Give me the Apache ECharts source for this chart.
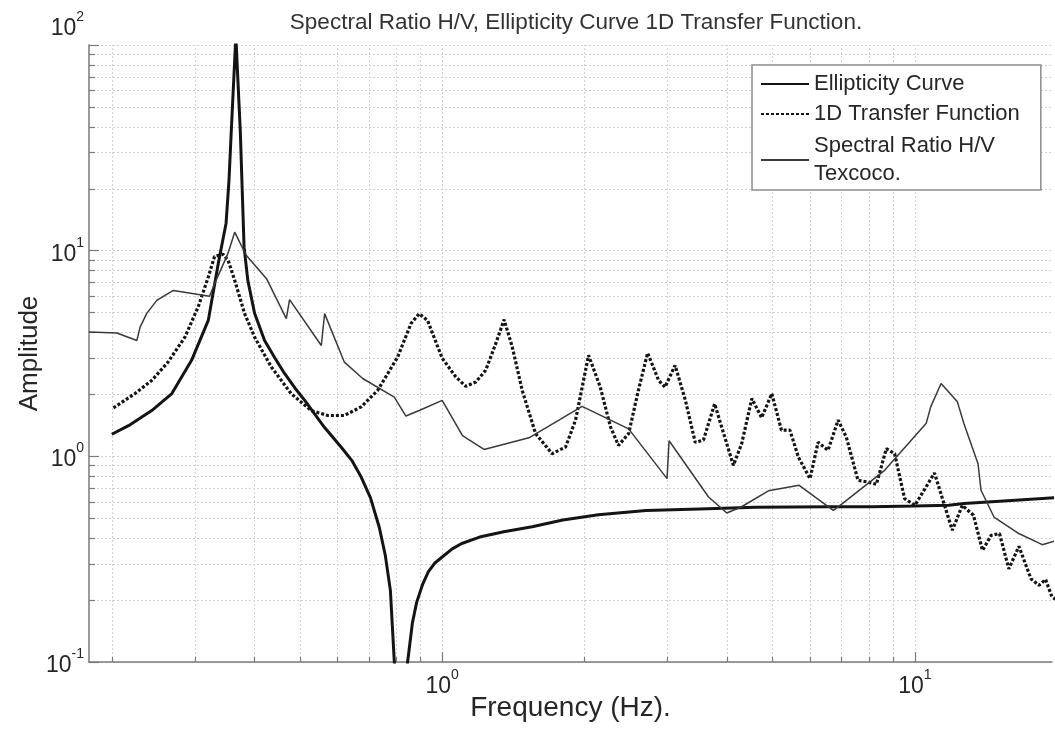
<!DOCTYPE html>
<html>
<head>
<meta charset="utf-8">
<script src="https://cdn.jsdelivr.net/npm/echarts@6/dist/echarts.min.js"></script>
<style>html,body{margin:0;padding:0;background:#fff;}#chart{width:1055px;height:734px;}</style>
</head>
<body>
<div id="chart"></div>
<script>
// ---- Data ----
const titleText = 'Spectral Ratio H/V, Ellipticity Curve 1D Transfer Function.';
const xAxisName = 'Frequency (Hz).';
const yAxisName = 'Amplitude';
const seriesNames = ['Ellipticity Curve', '1D Transfer Function', 'Spectral Ratio H/V\nTexcoco.'];

const freqEllipticity = [0.2, 0.217, 0.243, 0.268, 0.295, 0.32, 0.336, 0.349, 0.354, 0.358, 0.366, 0.374, 0.381, 0.388, 0.401, 0.421, 0.443, 0.464, 0.488, 0.512, 0.538, 0.564, 0.611, 0.645, 0.674, 0.705, 0.736, 0.758, 0.777, 0.792, 0.818, 0.845, 0.865, 0.883, 0.91, 0.935, 0.965, 1.0, 1.05, 1.1, 1.2, 1.35, 1.55, 1.8, 2.14, 2.7, 3.5, 4.6, 6.6, 8.1, 10.0, 11.8, 12.7, 16.0, 20];
const ampEllipticity  = [1.28, 1.41, 1.67, 2.02, 2.93, 4.58, 8.67, 13.6, 22, 38.4, 110, 38.4, 10.4, 7.17, 4.96, 3.66, 3.0, 2.53, 2.15, 1.87, 1.6, 1.38, 1.11, 0.95, 0.793, 0.63, 0.452, 0.33, 0.223, 0.1, 0.05, 0.1, 0.155, 0.195, 0.24, 0.275, 0.303, 0.324, 0.355, 0.377, 0.405, 0.43, 0.455, 0.49, 0.52, 0.545, 0.555, 0.565, 0.568, 0.568, 0.573, 0.578, 0.589, 0.61, 0.63];

const freqTransfer = [0.2016, 0.224, 0.243, 0.263, 0.2856, 0.3046, 0.32, 0.33, 0.344, 0.3525, 0.364, 0.382, 0.401, 0.435, 0.479, 0.528, 0.573, 0.621, 0.674, 0.73, 0.805, 0.859, 0.894, 0.931, 1.0, 1.069, 1.122, 1.178, 1.236, 1.298, 1.352, 1.407, 1.477, 1.576, 1.708, 1.824, 1.915, 2.04, 2.16, 2.27, 2.36, 2.48, 2.6, 2.72, 2.87, 2.96, 3.11, 3.27, 3.43, 3.57, 3.77, 4.13, 4.3, 4.52, 4.74, 4.98, 5.22, 5.44, 5.67, 6.0, 6.24, 6.55, 6.88, 7.16, 7.58, 7.96, 8.29, 8.7, 9.06, 9.51, 10.0, 11.0, 12.0, 12.6, 13.3, 13.9, 14.5, 15.1, 15.8, 16.6, 17.6, 18.3, 18.9, 19.5, 20];
const ampTransfer  = [1.72, 2.02, 2.34, 2.87, 3.80, 5.32, 7.44, 9.38, 9.6, 8.97, 7.17, 4.94, 3.80, 2.72, 2.02, 1.67, 1.58, 1.58, 1.74, 2.09, 3.04, 4.42, 4.94, 4.58, 3.0, 2.43, 2.19, 2.30, 2.62, 3.53, 4.62, 3.40, 2.09, 1.29, 1.03, 1.11, 1.50, 3.10, 2.17, 1.39, 1.13, 1.29, 2.09, 3.18, 2.34, 2.17, 2.77, 1.87, 1.17, 1.20, 1.80, 0.904, 1.15, 1.91, 1.54, 2.02, 1.34, 1.34, 0.99, 0.779, 1.17, 1.07, 1.50, 1.24, 0.764, 0.75, 0.731, 1.09, 1.03, 0.623, 0.578, 0.83, 0.437, 0.578, 0.517, 0.349, 0.413, 0.421, 0.284, 0.365, 0.254, 0.236, 0.252, 0.207, 0.2];

const freqSpectral = [0.179, 0.205, 0.226, 0.2296, 0.237, 0.249, 0.27, 0.322, 0.33, 0.341, 0.352, 0.364, 0.385, 0.425, 0.468, 0.4755, 0.555, 0.564, 0.621, 0.679, 0.792, 0.838, 0.894, 1.0, 1.104, 1.226, 1.526, 1.977, 2.48, 2.99, 3.02, 3.66, 4.0, 4.29, 4.9, 5.69, 6.72, 6.99, 8.63, 10.57, 10.8, 11.36, 12.3, 12.7, 13.6, 13.8, 14.7, 16.5, 18.6, 20];
const ampSpectral  = [4.02, 3.98, 3.66, 4.25, 4.94, 5.73, 6.41, 6.0, 6.91, 8.18, 9.67, 12.3, 9.49, 7.31, 4.67, 5.78, 3.46, 4.94, 2.87, 2.39, 1.94, 1.57, 1.67, 1.87, 1.26, 1.08, 1.23, 1.75, 1.36, 0.779, 1.19, 0.634, 0.53, 0.567, 0.68, 0.723, 0.546, 0.584, 0.855, 1.45, 1.74, 2.26, 1.84, 1.44, 0.92, 0.684, 0.507, 0.424, 0.372, 0.39];

const xMin = 0.179, xMax = 19.5;
const yMin = 0.1, yMax = 100;

// ---- helpers ----
function zip(a, b) { return a.map((v, i) => [v, b[i]]); }
function logTicks(lo, hi) {
  const out = [];
  for (let d = -2; d <= 3; d++) {
    for (let m = 1; m <= 9; m++) {
      const v = +(m * Math.pow(10, d)).toPrecision(6);
      if (v >= lo * 0.9999 && v <= hi * 1.0001) out.push({ v: v, major: m === 1 });
    }
  }
  return out;
}
const xTicks = logTicks(xMin, xMax);
const yTicks = logTicks(yMin, yMax);

const gridLines = [];
xTicks.forEach(t => gridLines.push({ xAxis: t.v }));
yTicks.forEach(t => gridLines.push({ yAxis: t.v }));

// inward tick marks (length expressed through the log scales: px / px-per-decade)
const pxPerDecX = 966 / Math.log10(xMax / xMin);
const pxPerDecY = 617 / Math.log10(yMax / yMin);
const tickLines = [];
xTicks.forEach(t => {
  const len = t.major ? 10 : 5;
  tickLines.push([{ coord: [t.v, yMin] }, { coord: [t.v, yMin * Math.pow(10, len / pxPerDecY)] }]);
});
yTicks.forEach(t => {
  const len = t.major ? 10 : 6;
  tickLines.push([{ coord: [xMin, t.v] }, { coord: [xMin * Math.pow(10, len / pxPerDecX), t.v] }]);
});

function powLabel(v) {
  const e = Math.log10(v);
  const r = Math.round(e);
  if (Math.abs(e - r) > 1e-6) return '';
  return '{b|10}{s|' + r + '}';
}

const FONT = 'Liberation Sans, Arial, sans-serif';
const textColor = '#262626';
const labelRich = {
  b: { fontFamily: FONT, fontSize: 23, color: textColor, lineHeight: 30, verticalAlign: 'bottom' },
  s: { fontFamily: FONT, fontSize: 14, color: textColor, lineHeight: 14, verticalAlign: 'top' },
  gap: { fontFamily: FONT, fontSize: 10, lineHeight: 40 }
};

const chart = echarts.init(document.getElementById('chart'), null, { renderer: 'canvas' });
chart.setOption({
  animation: false,
  backgroundColor: '#ffffff',
  title: {
    text: titleText,
    left: 571, top: 6, textAlign: 'center',
    textStyle: { fontFamily: FONT, fontSize: 22.5, fontWeight: 'normal', color: '#333333' }
  },
  grid: { left: 89, right: 0, top: 45, bottom: 72, containLabel: false },
  legend: {
    orient: 'vertical',
    left: 752, top: 65,
    data: [
      { name: seriesNames[0] },
      { name: seriesNames[1] },
      { name: seriesNames[2], textStyle: { padding: [4, 0, 0, 0] } }
    ],
    backgroundColor: '#ffffff',
    borderColor: '#8c8c8c', borderWidth: 1.5,
    padding: [5, 21, 0, 8],
    itemGap: 2,
    itemWidth: 48, itemHeight: 14,
    itemStyle: { opacity: 0, color: 'transparent', borderWidth: 0 },
    textStyle: { fontFamily: FONT, fontSize: 22, color: textColor, lineHeight: 28 }
  },
  xAxis: {
    type: 'log', logBase: 10, min: xMin, max: xMax,
    name: xAxisName, nameLocation: 'middle', nameGap: 32, nameMoveOverlap: false,
    nameTextStyle: { fontFamily: FONT, fontSize: 28, color: textColor, verticalAlign: 'top' },
    axisLine: { show: true, lineStyle: { color: '#7a7a7a', width: 1.5 } },
    axisTick: { show: false },
    splitLine: { show: false },
    axisLabel: {
      margin: 6, showMinLabel: true, showMaxLabel: true,
      formatter: powLabel,
      rich: labelRich
    }
  },
  yAxis: {
    type: 'log', logBase: 10, min: yMin, max: yMax,
    name: yAxisName, nameLocation: 'middle', nameGap: 46, nameRotate: 90, nameMoveOverlap: false,
    nameTextStyle: { fontFamily: FONT, fontSize: 26, color: textColor },
    axisLine: { show: true, lineStyle: { color: '#7a7a7a', width: 1.5 } },
    axisTick: { show: false },
    splitLine: { show: false },
    axisLabel: {
      margin: 5,
      formatter: function (v) {
        const s = powLabel(v);
        if (s && Math.round(Math.log10(v)) === 2) return s + '\n{gap| }';
        return s;
      },
      rich: labelRich
    }
  },
  series: [
    {
      name: '_grid', type: 'line', data: [], silent: true, z: 0,
      markLine: {
        silent: true, symbol: ['none', 'none'], z: 0, animation: false,
        label: { show: false },
        lineStyle: { color: '#d2d2d2', width: 1, type: [2, 2] },
        emphasis: { disabled: true },
        data: gridLines
      }
    },
    {
      name: '_ticks', type: 'line', data: [], silent: true, z: 3,
      markLine: {
        silent: true, symbol: ['none', 'none'], z: 3, animation: false,
        label: { show: false },
        lineStyle: { color: '#7a7a7a', width: 1.2, type: 'solid' },
        emphasis: { disabled: true },
        data: tickLines
      }
    },
    {
      name: seriesNames[0], type: 'line', data: zip(freqEllipticity, ampEllipticity),
      symbol: 'none', smooth: false, z: 4,
      lineStyle: { color: '#141414', width: 3 },
      itemStyle: { color: '#141414' }
    },
    {
      name: seriesNames[1], type: 'line', data: zip(freqTransfer, ampTransfer),
      symbol: 'none', smooth: false, z: 4,
      lineStyle: { color: '#141414', width: 3.2, type: [3, 2] },
      itemStyle: { color: '#141414' }
    },
    {
      name: seriesNames[2], type: 'line', data: zip(freqSpectral, ampSpectral),
      symbol: 'none', smooth: false, z: 4,
      lineStyle: { color: '#3a3a3a', width: 1.5 },
      itemStyle: { color: '#3a3a3a' }
    }
  ]
});
</script>
</body>
</html>
